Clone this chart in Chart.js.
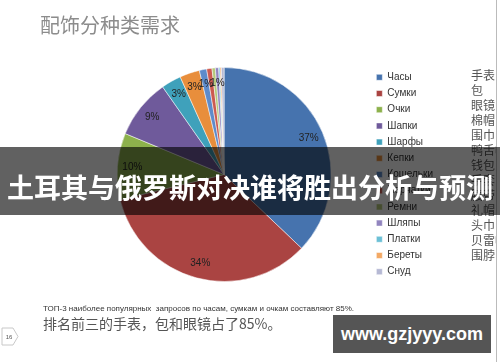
<!DOCTYPE html>
<html>
<head>
<meta charset="utf-8">
<script src="https://cdn.jsdelivr.net/npm/chart.js@4.4.0/dist/chart.umd.min.js"></script>
<style>
  body { margin: 0; background: #fff; }
  #page { position: relative; width: 500px; height: 362px; overflow: hidden; background: #fff; font-family: "Liberation Sans", Arial, sans-serif; }
  #chartBox { position: absolute; left: 0; top: 0; width: 500px; height: 362px; }
  .title { position: absolute; left: 40px; top: 15px; font-family: "Noto Sans CJK SC"; font-size: 20px; line-height: 20px; color: #8c8c8c; }
  #zhList { position: absolute; left: 471px; top: 67px; width: 25px; overflow: hidden; font-family: "Noto Sans CJK SC"; font-size: 12px; line-height: 15px; color: #555; white-space: nowrap; }
  .edge { position: absolute; left: 496px; top: 0; width: 1px; height: 362px; background: #bbb; }
  .noteRu { position: absolute; left: 43px; top: 304px; font-size: 8px; line-height: 10px; color: #333; white-space: pre; }
  .noteZh { position: absolute; left: 43px; top: 315px; font-family: "Noto Sans CJK SC"; font-size: 14px; line-height: 16px; color: #555; }
  .banner { position: absolute; left: 0; top: 147px; width: 500px; height: 68px; background: rgba(0,0,0,0.62); }
  .banner span { position: absolute; left: 0; width: 500px; top: 26px; text-align: center; font-family: "Noto Sans CJK SC"; font-weight: bold; font-size: 27px; line-height: 27px; color: #fff; }
  .mark { position: absolute; left: 333px; top: 315px; width: 158px; height: 38px; background: #555; color: #fff; font-weight: bold; font-size: 18px; line-height: 38px; text-align: center; }
  .pageNo { position: absolute; left: 0; top: 326px; }
</style>
</head>
<body>
<div id="page">
  <div id="chartBox"><canvas id="pieChart"></canvas></div>
  <div class="title">配饰分种类需求</div>
  <div id="zhList"></div>
  <div class="edge"></div>
  <div class="noteRu">ТОП-3 наиболее популярных  запросов по часам, сумкам и очкам составляют 85%.</div>
  <div class="noteZh">排名前三的手表，包和眼镜占了85%。</div>
  <svg class="pageNo" width="22" height="22">
    <polygon points="2,2 13,2 18,10.5 13,19 2,19" fill="#fff" stroke="#c8c8c8" stroke-width="1"/>
    <text x="9" y="13" font-size="6" fill="#555" text-anchor="middle" font-family="Liberation Sans, Arial">16</text>
  </svg>
  <div class="banner"><span>土耳其与俄罗斯对决谁将胜出分析与预测</span></div>
  <div class="mark">www.gzjyyy.com</div>
</div>
<script>
// accessories demand by type (share of requests, %)
const categories = ['Часы', 'Сумки', 'Очки', 'Шапки', 'Шарфы', 'Кепки', 'Кошельки', 'Перчатки', 'Ремни', 'Шляпы', 'Платки', 'Береты', 'Снуд'];
const categoriesZh = ['手表', '包', '眼镜', '棉帽', '围巾', '鸭舌帽', '钱包', '手套', '腰带', '礼帽', '头巾', '贝雷帽', '围脖'];
const shares = [37, 34, 10, 9, 3, 3, 1.1, 0.8, 0.5, 0.5, 0.2, 0.2, 0.4];
const sliceColors = ['#4673AE', '#AA4442', '#8DB14C', '#6F5A9B', '#3FA1BB', '#E88E3C',
  '#5E8BCA', '#CC5A50', '#B5C97A', '#9285BF', '#6CC0D6', '#F3A965', '#B6B9D4'];

document.getElementById('zhList').innerHTML = categoriesZh.map(t => `<div>${t}</div>`).join('');

// percent labels drawn on the slices
const pctLabels = {
  id: 'pctLabels',
  afterDatasetsDraw(chart) {
    const ctx = chart.ctx;
    const meta = chart.getDatasetMeta(0);
    ctx.save();
    ctx.font = '10px "Liberation Sans", Arial, sans-serif';
    ctx.fillStyle = '#222';
    ctx.textAlign = 'center';
    ctx.textBaseline = 'middle';
    let prev = null;
    meta.data.forEach((arc, i) => {
      const v = shares[i];
      if (v < 0.75) return;
      const p = arc.getProps(['x', 'y', 'startAngle', 'endAngle', 'outerRadius'], true);
      const mid = (p.startAngle + p.endAngle) / 2;
      const r = p.outerRadius * 0.86;
      let x = p.x + Math.cos(mid) * r;
      const y = p.y + Math.sin(mid) * r;
      const text = Math.round(v) + '%';
      const w = ctx.measureText(text).width;
      // nudge crowded labels to the right
      if (prev && Math.abs(y - prev.y) < 10 && x - w / 2 < prev.right - 3) {
        x = prev.right - 3 + w / 2;
      }
      ctx.fillText(text, x, y);
      prev = { y: y, right: x + w / 2 };
    });
    ctx.restore();
  }
};

new Chart(document.getElementById('pieChart'), {
  type: 'pie',
  data: {
    labels: categories,
    datasets: [{
      data: shares,
      backgroundColor: sliceColors,
      borderColor: '#fff',
      borderWidth: 0.5,
      radius: 107
    }]
  },
  options: {
    responsive: true,
    maintainAspectRatio: false,
    animation: false,
    layout: { padding: { left: 78, right: 57, top: 0, bottom: 13 } },
    plugins: {
      tooltip: { enabled: false },
      legend: {
        position: 'right',
        labels: {
          boxWidth: 6,
          boxHeight: 6,
          padding: 6.2,
          color: '#333',
          font: { size: 10, family: '"Liberation Sans", Arial, sans-serif' }
        }
      }
    }
  },
  plugins: [pctLabels]
});
</script>
</body>
</html>
